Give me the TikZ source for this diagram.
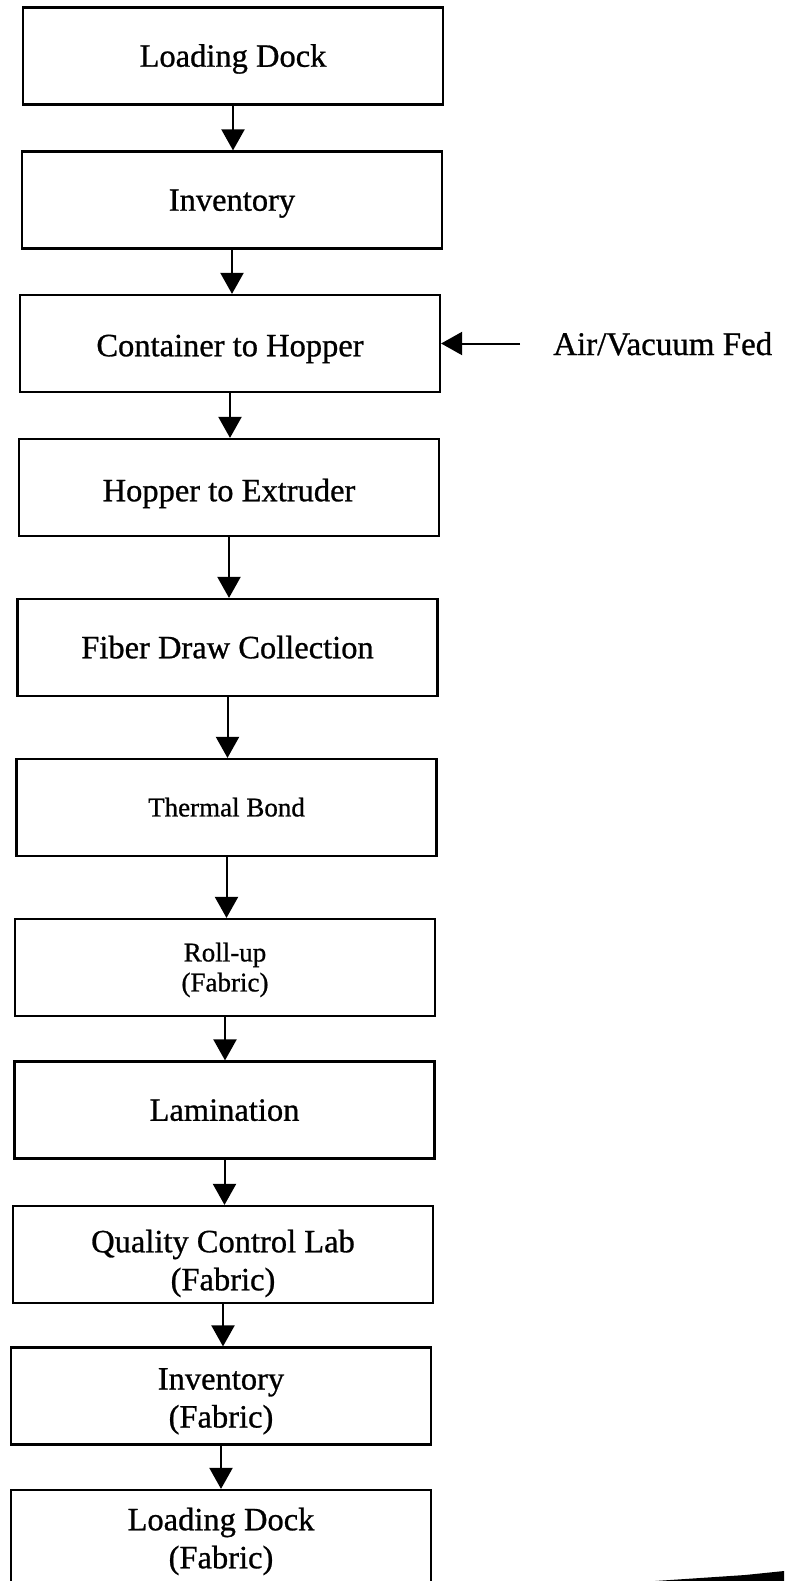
\documentclass[tikz,border=0pt]{standalone}
\usepackage{fontspec}
\setmainfont[FakeBold=0.8]{Liberation Serif}
\usetikzlibrary{arrows.meta}
\begin{document}
\begin{tikzpicture}[x=1pt,y=-1pt,
  stage/.style={draw, line width=2.2pt, minimum width=420pt, minimum height=97pt,
    inner sep=0pt, align=center, text height=21.5pt, text depth=0pt,
    font=\fontsize{32.5}{38}\selectfont},
  twoline/.style={stage, text height=59.5pt},
  smallstage/.style={stage, text height=17.8pt, font=\fontsize{27}{30}\selectfont},
  smalltwoline/.style={smallstage, text height=47.8pt},
  flow/.style={line width=2pt, -{Triangle[width=23pt,length=21pt]}}]

\useasboundingbox (0,0) rectangle (784,1581);
\clip (0,0) rectangle (784,1581);

% process stages, top to bottom
\node[stage] (ld)   at (233,56)     {Loading Dock};
\node[stage] (inv)  at (232,200)    {Inventory};
\node[stage, text height=25.5pt] (c2h) at (230,343.5) {Container to Hopper};
\node[stage, text height=27.5pt] (h2e) at (229,487.5) {Hopper to Extruder};
\node[stage] (fdc)  at (227.5,647.5){Fiber Draw Collection};
\node[smallstage] (tb)   at (226.5,807.5){Thermal Bond};
\node[smalltwoline] (roll) at (225,967.5){Roll-up\\(Fabric)};
\node[stage] (lam)  at (224.5,1110) {Lamination};
\node[twoline, text height=71.5pt] (qc) at (223,1254.5) {Quality Control Lab\\(Fabric)};
\node[twoline, text height=63pt] (invf) at (221,1396) {Inventory\\(Fabric)};
\node[twoline] (ldf)  at (221,1538.5) {Loading Dock\\(Fabric)};

% flow between stages
\foreach \a/\b in {ld/inv, inv/c2h, c2h/h2e, h2e/fdc, fdc/tb, tb/roll,
                   roll/lam, lam/qc, qc/invf, invf/ldf}
  \draw[flow] (\a.south) -- (\a.south |- \b.north);

% side feed into the hopper
\node[anchor=base west, inner sep=0pt, font=\fontsize{33}{38}\selectfont]
  (air) at (553,355) {Air/Vacuum Fed};
\coordinate (feed) at (520,343.5);
\draw[flow] (feed) -- (c2h.east);

% dark edge in the lower right corner
\fill[black] (655,1581) -- (700,1578) -- (745,1575) -- (784,1571) -- (784,1581) -- cycle;
\end{tikzpicture}
\end{document}
